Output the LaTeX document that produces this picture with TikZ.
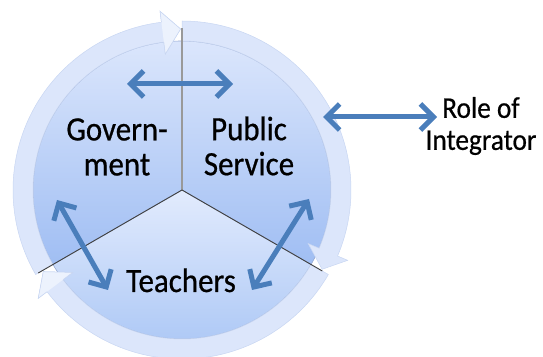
\documentclass[tikz,border=0pt]{standalone}
\usepackage{fontspec}
\setmainfont{Carlito}
\newfontfamily\diagfont[FakeStretch=0.91,FakeBold=0.6]{Carlito}
\usetikzlibrary{arrows.meta}
\definecolor{arrblue}{RGB}{74,126,187}
\definecolor{segtop}{RGB}{219,230,252}
\definecolor{segbot}{RGB}{160,190,243}
\definecolor{teatop}{RGB}{226,235,253}
\definecolor{teabot}{RGB}{168,197,245}
\definecolor{ringcol}{RGB}{220,230,251}
\definecolor{headcol}{RGB}{236,242,253}
\definecolor{rimcol}{RGB}{150,170,210}
\definecolor{ringedge}{RGB}{200,214,242}
\tikzset{
  seg/.style={draw=rimcol, line width=0.6pt},
  ringseg/.style={fill=ringcol, draw=ringedge, line width=0.5pt},
  headfill/.style={fill=headcol, draw=ringedge, line width=0.5pt},
  spoke/.style={draw=black!75, line width=0.9pt},
  vspoke/.style={draw=black!40, line width=1.4pt},
  link/.style={draw=arrblue, line width=5pt,
    {Straight Barb[length=13pt,width=26pt]}-{Straight Barb[length=13pt,width=26pt]}},
  bigtxt/.style={font=\diagfont\fontsize{34}{35}\selectfont, align=center, inner sep=0pt},
  smalltxt/.style={font=\diagfont\fontsize{30}{32}\selectfont, align=center, inner sep=0pt}
}
\begin{document}
\begin{tikzpicture}[x=1pt,y=1pt]
\useasboundingbox (0,0) rectangle (543,356);
\begin{scope}[shift={(182,166)}]
  % disc segments
  \path[seg, top color=segtop, bottom color=segbot]
    (0,0) -- (90:149) arc[start angle=90,end angle=210,radius=149] -- cycle;
  \path[seg, top color=segtop, bottom color=segbot]
    (0,0) -- (-30:149) arc[start angle=-30,end angle=90,radius=149] -- cycle;
  \path[seg, top color=teatop, bottom color=teabot]
    (0,0) -- (210:149) arc[start angle=210,end angle=330,radius=149] -- cycle;
  % ring arrows
  \path[ringseg] (210:169) arc[start angle=210,end angle=97,radius=169]
    -- (97:180) -- (90.5:161) -- (97:137) -- (97:149)
    arc[start angle=97,end angle=210,radius=149] -- cycle;
  \path[ringseg] (90:169) arc[start angle=90,end angle=-23,radius=169]
    -- (-23:180) -- (-29.5:161) -- (-23:137) -- (-23:149)
    arc[start angle=-23,end angle=90,radius=149] -- cycle;
  \path[ringseg] (-30:169) arc[start angle=-30,end angle=-143,radius=169]
    -- (-143:180) -- (-149.5:161) -- (-143:137) -- (-143:149)
    arc[start angle=-143,end angle=-30,radius=149] -- cycle;
  \path[headfill] (97:169) -- (97:180) -- (90.5:161) -- (97:137) -- (97:149);
  \path[headfill] (-143:169) -- (-143:180) -- (-149.5:161) -- (-143:137) -- (-143:149);
  % spokes
  \coordinate (O) at (0,0);
  \coordinate (sT) at (90:162);
  \coordinate (sL) at (210:166);
  \coordinate (sR) at (330:162);
  \draw[vspoke] (O) -- (sT);
  \draw[spoke] (O) -- (sL);
  \draw[spoke] (O) -- (sR);
\end{scope}
% text
\node[bigtxt] (gov) at (117,209) {Govern-\\ment};
\node[bigtxt] (pub) at (249,210) {Public\\Service};
\node[bigtxt, anchor=base] (tea) at (181,64) {Teachers};
\node[smalltxt] (role) at (481,230) {Role of\\Integrator};
% arrows
\coordinate (t1) at (127,272);
\coordinate (t2) at (233,272);
\coordinate (r1) at (323,239);
\coordinate (r2) at (437,239);
\coordinate (l1) at (57,156);
\coordinate (l2) at (108,66);
\coordinate (d1) at (309,157);
\coordinate (d2) at (252,66);
\draw[link] (t1) -- (t2);
\draw[link] (r1) -- (r2);
\draw[link] (l1) -- (l2);
\draw[link] (d1) -- (d2);
\end{tikzpicture}
\end{document}
